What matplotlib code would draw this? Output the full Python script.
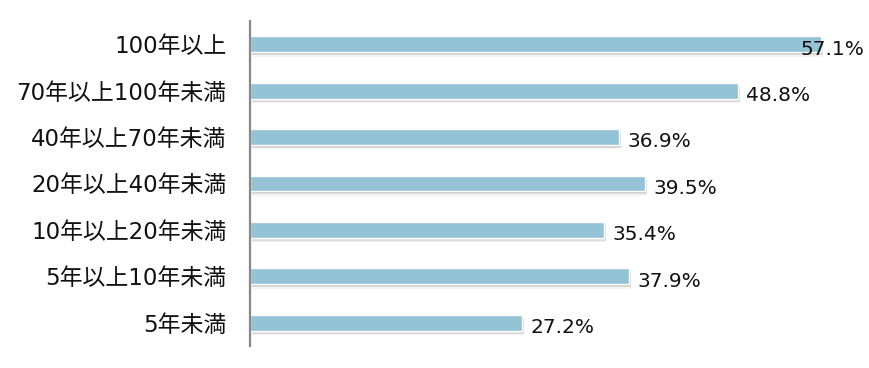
import matplotlib
matplotlib.use("Agg")
import matplotlib.pyplot as plt
import matplotlib.patheffects as pe

plt.rcParams['font.family'] = ['DejaVu Sans', 'Noto Sans CJK JP']

categories = ["100年以上", "70年以上100年未満", "40年以上70年未満", "20年以上40年未満",
              "10年以上20年未満", "5年以上10年未満", "5年未満"]
values = [57.1, 48.8, 36.9, 39.5, 35.4, 37.9, 27.2]
value_labels = ["57.1%", "48.8%", "36.9%", "39.5%", "35.4%", "37.9%", "27.2%"]

fig = plt.figure(figsize=(8.7, 3.68), dpi=100)
ax = fig.add_axes([250/870, 22/368, 620/870, 325/368])

xmax = 62
ypos = list(range(len(categories)))[::-1]
shadow = [pe.SimplePatchShadow(offset=(0.8, -1.2), alpha=0.18, shadow_rgbFace="#606060"),
          pe.SimplePatchShadow(offset=(1.2, -2.2), alpha=0.14, shadow_rgbFace="#606060"),
          pe.SimplePatchShadow(offset=(1.6, -3.2), alpha=0.08, shadow_rgbFace="#606060"),
          pe.Normal()]
bars = ax.barh(ypos, values, height=0.34, color="#93C3D5", edgecolor="white", linewidth=1.0,
               path_effects=shadow)
ax.set_xlim(0, xmax)
ax.set_ylim(-0.5, len(categories) - 0.5)
ax.set_yticks(ypos)
ax.set_yticklabels(categories, fontsize=16.5, color="#111111")
ax.tick_params(axis='y', length=0, pad=17)
ax.set_xticks([])
for s in ["top", "right", "bottom"]:
    ax.spines[s].set_visible(False)
ax.spines["left"].set_color("#888888")
ax.spines["left"].set_linewidth(1.6)

for y, v, lab in zip(ypos, values, value_labels):
    if v > xmax - 6:
        ax.annotate(lab, (xmax, y), xytext=(-4, -7.5), textcoords="offset points",
                    ha="right", va="baseline", fontsize=14.5, color="#111111")
    else:
        ax.annotate(lab, (v, y), xytext=(6, -7.5), textcoords="offset points",
                    ha="left", va="baseline", fontsize=14.5, color="#111111")

fig.savefig("out.png", dpi=100)
